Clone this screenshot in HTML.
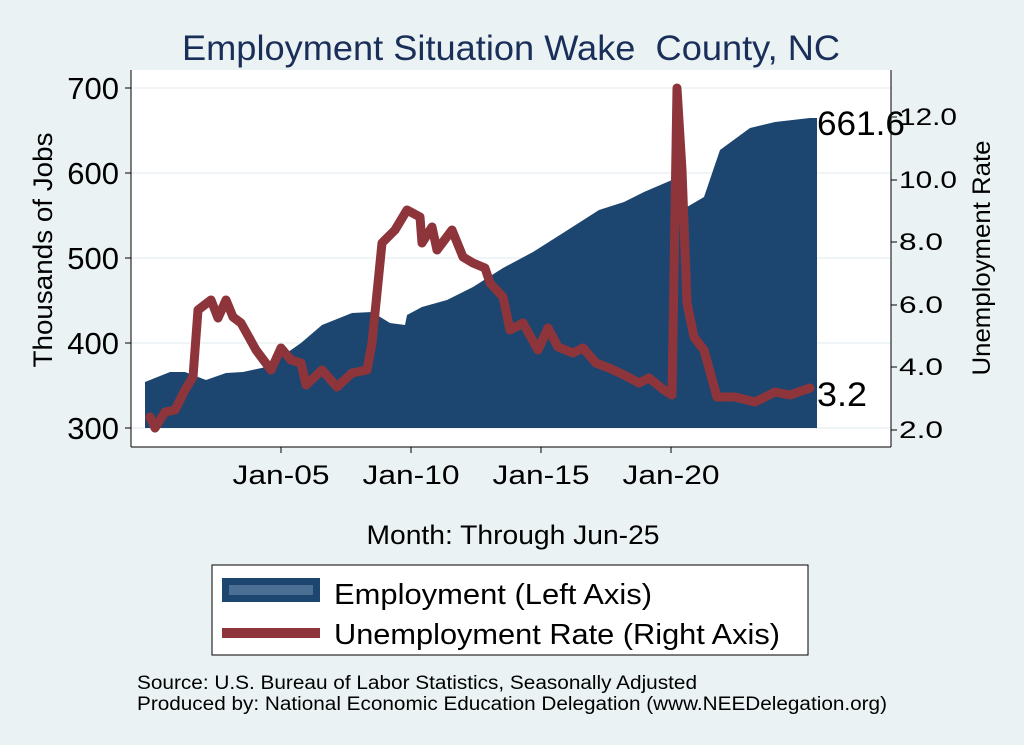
<!DOCTYPE html>
<html><head><style>body{margin:0;background:#eaf2f3}svg{display:block}</style></head><body>
<svg width="1024" height="745" xmlns="http://www.w3.org/2000/svg" font-family="Liberation Sans, sans-serif">
<rect width="1024" height="745" fill="#eaf2f3"/>
<text x="511" y="60" text-anchor="middle" font-size="35" fill="#1a2e5a" textLength="658" lengthAdjust="spacingAndGlyphs" xml:space="preserve">Employment Situation Wake  County, NC</text>
<rect x="131" y="70" width="760" height="377" fill="#fff"/>
<g stroke="#eaf2f3" stroke-width="1.5">
<line x1="131" y1="88" x2="891" y2="88"/><line x1="131" y1="173" x2="891" y2="173"/><line x1="131" y1="258" x2="891" y2="258"/><line x1="131" y1="343" x2="891" y2="343"/><line x1="131" y1="428" x2="891" y2="428"/>
</g>
<polygon fill="#1c4670" points="145,428 145,382 170,372 185,372 206,380 226,373 243,372 266,367 291,350 301,343 322,325 352,313 372,312 390,323 405,325 407,315 422,307 447,300 473,287 503,268 533,252 563,233 599,210 624,202 644,192 672,180 676,182 682,207 687,207 704,197 720,150 750,128 775,122 810,118 817,118 817,428"/>
<polyline fill="none" stroke="#8e353b" stroke-width="9" stroke-linejoin="round" stroke-linecap="round" points="150,417 155,428 165,412 175,410 185,390 193,377 198,310 211,300 218,318 226,300 233,317 241,323 256,350 271,370 281,348 291,360 301,363 306,385 322,370 337,387 352,373 367,370 372,343 382,243 395,230 407,210 420,217 422,243 432,227 437,250 452,230 463,257 473,263 485,268 490,283 503,297 510,330 523,323 538,350 548,328 558,347 573,353 583,348 596,363 609,368 624,375 639,383 649,378 664,390 672,395 677,88 682,170 687,303 694,337 704,350 717,397 735,397 755,402 775,392 790,395 810,388"/>
<g stroke="#000" stroke-width="1"><line x1="131" y1="70" x2="131" y2="447"/><line x1="891" y1="70" x2="891" y2="447"/><line x1="131" y1="447" x2="891" y2="447"/>
<line x1="125" y1="88" x2="131" y2="88"/><line x1="125" y1="173" x2="131" y2="173"/><line x1="125" y1="258" x2="131" y2="258"/><line x1="125" y1="343" x2="131" y2="343"/><line x1="125" y1="428" x2="131" y2="428"/>
<line x1="891" y1="117" x2="897" y2="117"/><line x1="891" y1="180" x2="897" y2="180"/><line x1="891" y1="242" x2="897" y2="242"/><line x1="891" y1="305" x2="897" y2="305"/><line x1="891" y1="367" x2="897" y2="367"/><line x1="891" y1="430" x2="897" y2="430"/>
<line x1="281" y1="447" x2="281" y2="453"/><line x1="411" y1="447" x2="411" y2="453"/><line x1="541" y1="447" x2="541" y2="453"/><line x1="671" y1="447" x2="671" y2="453"/></g>
<g font-size="31" text-anchor="end"><text x="119" y="99">700</text><text x="119" y="184">600</text><text x="119" y="269">500</text><text x="119" y="354">400</text><text x="119" y="439">300</text></g>
<g font-size="24"><text x="899" y="125" textLength="58" lengthAdjust="spacingAndGlyphs">12.0</text><text x="899" y="188" textLength="58" lengthAdjust="spacingAndGlyphs">10.0</text><text x="899" y="250" textLength="44" lengthAdjust="spacingAndGlyphs">8.0</text><text x="899" y="313" textLength="44" lengthAdjust="spacingAndGlyphs">6.0</text><text x="899" y="375" textLength="44" lengthAdjust="spacingAndGlyphs">4.0</text><text x="899" y="438" textLength="44" lengthAdjust="spacingAndGlyphs">2.0</text></g>
<g font-size="27" text-anchor="middle"><text x="281" y="484" textLength="97" lengthAdjust="spacingAndGlyphs">Jan-05</text><text x="411" y="484" textLength="97" lengthAdjust="spacingAndGlyphs">Jan-10</text><text x="541" y="484" textLength="97" lengthAdjust="spacingAndGlyphs">Jan-15</text><text x="671" y="484" textLength="97" lengthAdjust="spacingAndGlyphs">Jan-20</text></g>
<text x="52" y="250" font-size="27" text-anchor="middle" transform="rotate(-90 52 250)" textLength="235" lengthAdjust="spacingAndGlyphs">Thousands of Jobs</text>
<text x="990" y="258" font-size="25" text-anchor="middle" transform="rotate(-90 990 258)" textLength="235" lengthAdjust="spacingAndGlyphs">Unemployment Rate</text>
<text x="817" y="135" font-size="34" textLength="88" lengthAdjust="spacingAndGlyphs">661.6</text>
<text x="817" y="406" font-size="34" textLength="50" lengthAdjust="spacingAndGlyphs">3.2</text>
<text x="513" y="544" font-size="27" text-anchor="middle" textLength="293" lengthAdjust="spacingAndGlyphs">Month: Through Jun-25</text>
<rect x="212" y="565" width="596" height="90" fill="#fff" stroke="#000" stroke-width="1"/>
<rect x="222" y="578" width="98" height="24" fill="#1c4670"/><rect x="229" y="585" width="84" height="10" fill="#4a6f93"/>
<line x1="222" y1="633" x2="320" y2="633" stroke="#8e353b" stroke-width="10"/>
<text x="334" y="604" font-size="29" textLength="318" lengthAdjust="spacingAndGlyphs">Employment (Left Axis)</text>
<text x="334" y="644" font-size="29" textLength="446" lengthAdjust="spacingAndGlyphs">Unemployment Rate (Right Axis)</text>
<text x="137" y="689" font-size="19" textLength="560" lengthAdjust="spacingAndGlyphs">Source: U.S. Bureau of Labor Statistics, Seasonally Adjusted</text>
<text x="137" y="710" font-size="19" textLength="750" lengthAdjust="spacingAndGlyphs">Produced by: National Economic Education Delegation (www.NEEDelegation.org)</text>
</svg></body></html>
